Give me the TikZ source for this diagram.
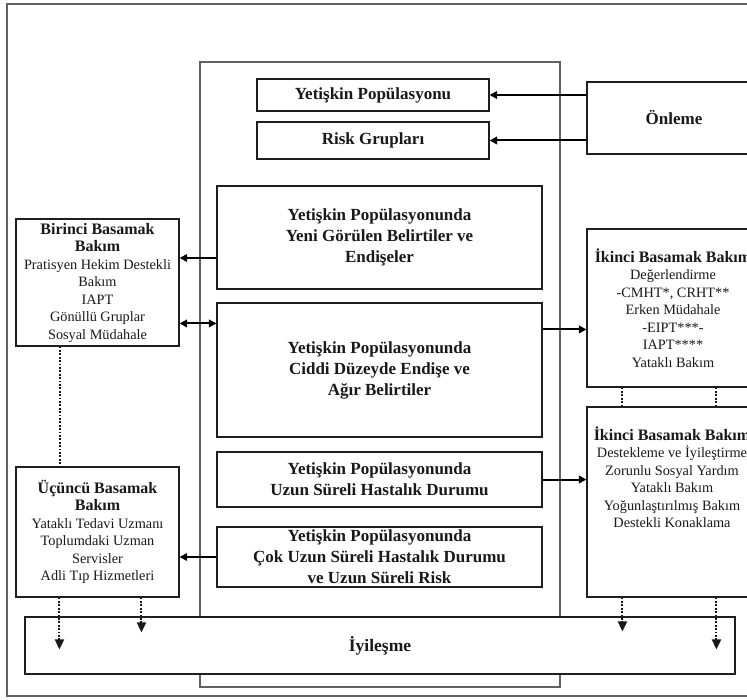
\documentclass[tikz,border=0pt]{standalone}
\usepackage{fontspec}
\setmainfont{Liberation Serif}
\usetikzlibrary{arrows.meta,calc}

\newcommand\headfont{\fontsize{16}{18}\selectfont\bfseries}
\newcommand\itemfont{\fontsize{14.3}{17.5}\selectfont\mdseries}

\begin{document}
\begin{tikzpicture}[x=1pt,y=-1pt,
  box/.style={draw=black!88, line width=1.1pt, fill=white, inner sep=0pt,
    align=center, text=black!90},
  sidebox/.style={box, font=\itemfont},
  frame/.style={draw=black!62, line width=1.4pt},
  maintxt/.style={font=\fontsize{17}{21}\selectfont\bfseries},
  sidetxt/.style={align=center, text=black!90, inner sep=0pt, font=\itemfont},
  arr/.style={line width=2pt, -{Triangle[length=7.5pt,width=7.5pt]}},
  dbl/.style={line width=2pt, {Triangle[length=7.5pt,width=7.5pt]}-{Triangle[length=7.5pt,width=7.5pt]}},
  dots/.style={line width=2pt, dash pattern=on 1.8pt off 1.6pt, draw=black!90},
  darr/.style={dots, -{Triangle[length=10pt,width=9pt]}},
]
\clip (0,0) rectangle (747,700);
\fill[white] (0,0) rectangle (747,700);

% outer frame and central column
\draw[frame] (7,4) rectangle (790,696);
\draw[frame] (200,62) rectangle (560,687);

% central column
\node[box, maintxt, minimum width=232, minimum height=32] (pop) at (373,95) {Yetişkin Popülasyonu};
\node[box, maintxt, minimum width=232, minimum height=37] (risk) at (373,140.5) {Risk Grupları};
\node[box, maintxt, minimum width=325, minimum height=103] (yeni) at (379.5,237.5) {Yetişkin Popülasyonunda\\Yeni Görülen Belirtiler ve\\Endişeler};
\node[box, maintxt, minimum width=325, minimum height=134] (ciddi) at (379.5,370) {Yetişkin Popülasyonunda\\Ciddi Düzeyde Endişe ve\\Ağır Belirtiler};
\node[box, maintxt, minimum width=325, minimum height=55] (uzun) at (379.5,479.5) {Yetişkin Popülasyonunda\\Uzun Süreli Hastalık Durumu};
\node[box, maintxt, minimum width=325, minimum height=60] (cok) at (379.5,557) {Yetişkin Popülasyonunda\\Çok Uzun Süreli Hastalık Durumu\\ve Uzun Süreli Risk};

% prevention
\node[box, maintxt, minimum width=174, minimum height=72] (onleme) at (674,118) {Önleme};

% left column
\node[sidebox, minimum width=163, minimum height=127] (birinci) at (97.5,282.5) {{\headfont Birinci Basamak}\\{\headfont Bakım}\\Pratisyen Hekim Destekli\\Bakım\\IAPT\\Gönüllü Gruplar\\Sosyal Müdahale};
\node[sidebox, minimum width=163, minimum height=130] (ucuncu) at (97.5,532) {{\headfont Üçüncü Basamak}\\{\headfont Bakım}\\Yataklı Tedavi Uzmanı\\Toplumdaki Uzman\\Servisler\\Adli Tıp Hizmetleri};

% right column
\node[sidebox, minimum width=172, minimum height=158] (ik1) at (673,308) {{\headfont İkinci Basamak Bakım}\\Değerlendirme\\-CMHT*, CRHT**\\Erken Müdahale\\-EIPT***-\\IAPT****\\Yataklı Bakım};
\node[box, minimum width=172, minimum height=190] (ik2) at (673,502) {};
\node[sidetxt, anchor=north] (ik2txt) at ($(ik2.north)+(-1,20)$) {{\headfont İkinci Basamak Bakım}\\Destekleme ve İyileştirme\\Zorunlu Sosyal Yardım\\Yataklı Bakım\\Yoğunlaştırılmış Bakım\\Destekli Konaklama};

% recovery band
\node[box, font=\fontsize{17.5}{21}\selectfont\bfseries, minimum width=710, minimum height=57] (iyi) at (380,645.5) {İyileşme};

% solid connectors
\draw[arr] (onleme.west |- pop.east) -- (pop.east);
\draw[arr] (onleme.west |- risk.east) -- (risk.east);
\coordinate (a1) at ($(yeni.west)+(0,20.5)$);
\draw[arr] (a1) -- (birinci.east |- a1);
\coordinate (a2) at ($(ciddi.north west)+(0,21)$);
\draw[dbl] (birinci.east |- a2) -- (a2);
\coordinate (a3) at ($(ciddi.north east)+(0,27)$);
\draw[arr] (a3) -- (ik1.west |- a3);
\draw[arr] (uzun.east) -- (ik2.west |- uzun.east);
\draw[arr] (cok.west) -- (ucuncu.east |- cok.west);

% dotted links
\coordinate (d1) at ($(birinci.south west)+(45,0)$);
\draw[dots] (d1) -- (d1 |- ucuncu.north);
\coordinate (d2) at ($(ucuncu.south west)+(44,0)$);
\draw[darr] (d2) -- ($(d2 |- iyi.north)+(0,33)$);
\coordinate (d3) at ($(ucuncu.south west)+(126,0)$);
\draw[darr] (d3) -- ($(d3 |- iyi.north)+(0,16)$);
\coordinate (d4) at ($(ik1.south west)+(36,0)$);
\draw[dots] (d4) -- (d4 |- ik2.north);
\coordinate (d5) at ($(ik1.south west)+(130,0)$);
\draw[dots] (d5) -- (d5 |- ik2.north);
\coordinate (d6) at ($(ik2.south west)+(36,0)$);
\draw[darr] (d6) -- ($(d6 |- iyi.north)+(0,15)$);
\coordinate (d7) at ($(ik2.south west)+(130,0)$);
\draw[darr] (d7) -- ($(d7 |- iyi.north)+(0,33)$);
\end{tikzpicture}
\end{document}
